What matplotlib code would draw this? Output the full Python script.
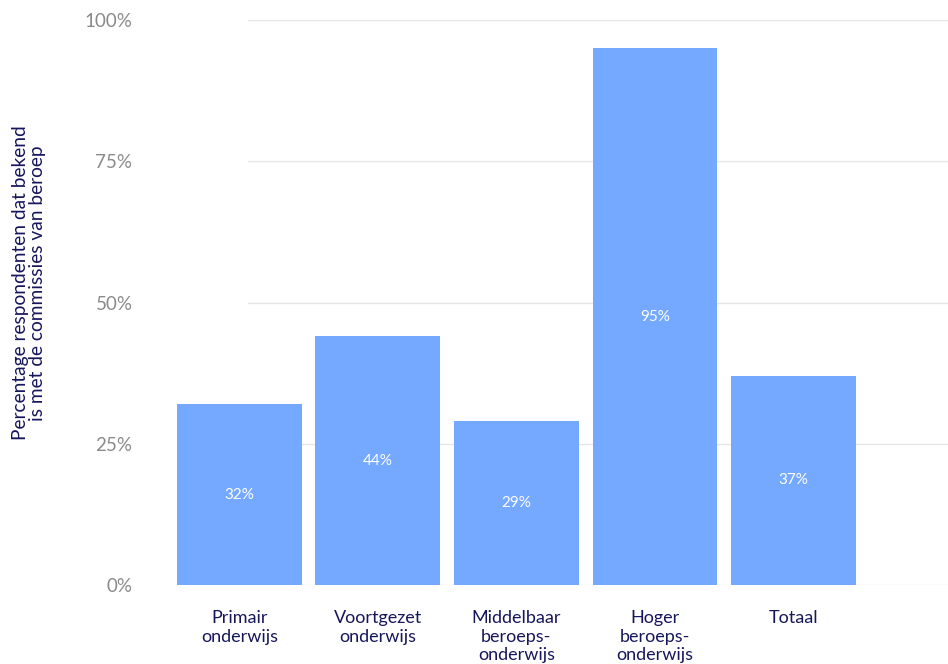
import matplotlib.pyplot as plt

categories = ['Primair\nonderwijs', 'Voortgezet\nonderwijs', 'Middelbaar\nberoeps-\nonderwijs',
              'Hoger\nberoeps-\nonderwijs', 'Totaal']
values = [32, 44, 29, 95, 37]
y_ticks = [0, 25, 50, 75, 100]

BAR_COLOR = '#74a9ff'
NAVY = '#16165c'
GREY = '#8a8a8a'
GRID = '#e6e6e6'

plt.rcParams['font.family'] = ['Lato', 'DejaVu Sans']

fig = plt.figure(figsize=(9.48, 6.64), dpi=100)
ax = fig.add_axes([170 / 948, 79 / 664, 778 / 948, 565 / 664])

positions = list(range(len(values)))
ax.bar(positions, values, width=0.9, color=BAR_COLOR, zorder=2)

for x, v in zip(positions, values):
    ax.text(x, v / 2, f'{v}%', ha='center', va='center', color='white', fontsize=11, zorder=3)

ax.set_xlim(-0.5, 5.115)
ax.set_ylim(0, 100)

# horizontal grid, starting a bit to the right of the axis edge
for t in y_ticks:
    ax.axhline(t, xmin=0.1, xmax=1, color=GRID, linewidth=1, zorder=1)

ax.set_yticks(y_ticks)
ax.set_yticklabels([f'{t}%' for t in y_ticks], color=GREY, fontsize=13.5)
ax.tick_params(axis='y', length=0, pad=27)

ax.set_xticks(positions)
ax.set_xticklabels(categories, color=NAVY, fontsize=13, linespacing=1.2)
ax.tick_params(axis='x', length=0, pad=18)

for spine in ax.spines.values():
    spine.set_visible(False)

fig.text(29 / 948, 1 - 283 / 664, 'Percentage respondenten dat bekend\nis met de commissies van beroep',
         rotation=90, ha='center', va='center', color=NAVY, fontsize=13.8, linespacing=1.0)

fig.savefig('out.png', dpi=100)
